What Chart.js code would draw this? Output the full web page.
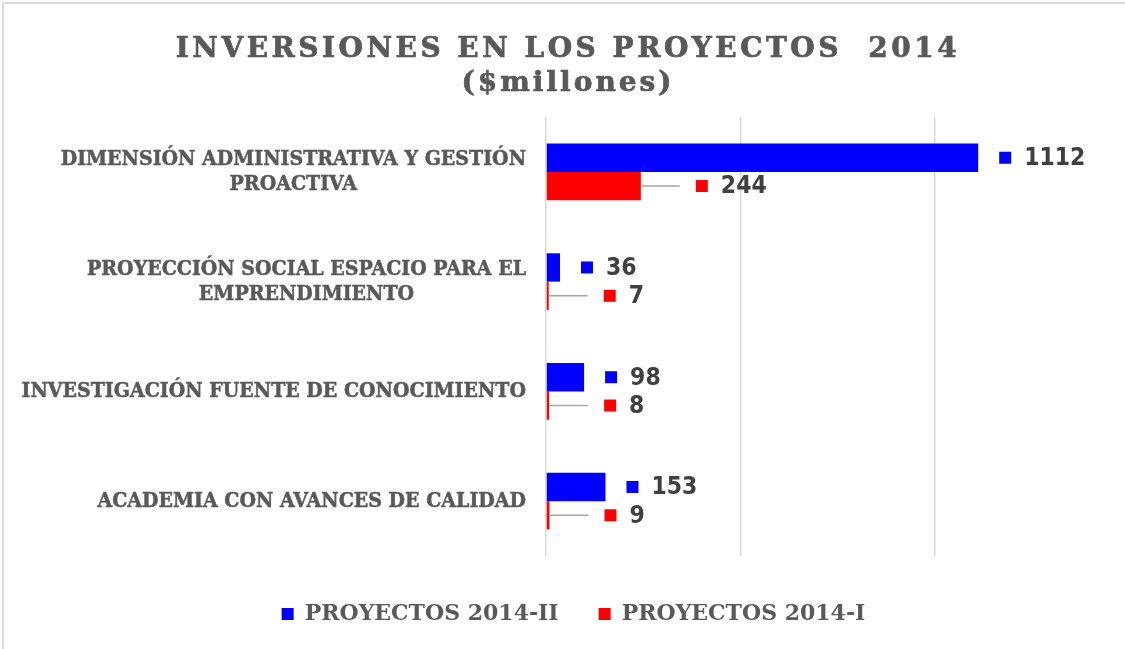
<!DOCTYPE html>
<html>
<head>
<meta charset="utf-8">
<script src="https://cdn.jsdelivr.net/npm/chart.js@4.4.1/dist/chart.umd.min.js"></script>
<style>
  html, body { margin:0; padding:0; background:#fff; overflow:hidden; }
  #wrap { position:absolute; left:0; top:0; width:1170px; height:649px; }
  #frame { position:absolute; left:2px; top:2px; width:1200px; height:700px; border-top:2px solid #d9d9d9; border-left:2px solid #d9d9d9; pointer-events:none; }
</style>
</head>
<body>
<div id="wrap"><canvas id="chart" width="1170" height="649"></canvas></div>
<div id="frame"></div>
<script>
const categories = [
  ['DIMENSIÓN ADMINISTRATIVA Y GESTIÓN', 'PROACTIVA'],
  ['PROYECCIÓN SOCIAL ESPACIO PARA EL', 'EMPRENDIMIENTO'],
  ['INVESTIGACIÓN FUENTE DE CONOCIMIENTO'],
  ['ACADEMIA CON AVANCES DE CALIDAD']
];
const proyectos2014II = [1112, 36, 98, 153];
const proyectos2014I = [244, 7, 8, 9];
const titleLines = ['INVERSIONES EN LOS PROYECTOS  2014', '($millones)'];

const textGrey = '#595959';
const labelGrey = '#404040';

// text with optional vertical stretch and a thin stroke to make it heavier
function stretchText(ctx, text, x, y, sy, stroke){
  ctx.save();
  ctx.translate(x, y);
  ctx.scale(1, sy);
  ctx.fillText(text, 0, 0);
  if (stroke) {
    ctx.strokeStyle = ctx.fillStyle;
    ctx.lineWidth = stroke;
    ctx.strokeText(text, 0, 0);
  }
  ctx.restore();
}

const titlePlugin = {
  id: 'titleDraw',
  afterDraw(chart){
    const ctx = chart.ctx;
    ctx.save();
    ctx.fillStyle = textGrey;
    ctx.font = 'bold 28px "DejaVu Serif"';
    ctx.textAlign = 'center';
    ctx.textBaseline = 'alphabetic';
    ctx.letterSpacing = '3.5px';
    stretchText(ctx, titleLines[0], 568, 57, 1, 0.7);
    ctx.letterSpacing = '3px';
    stretchText(ctx, titleLines[1], 568, 91, 1, 0.7);
    ctx.restore();
  }
};

const catLabelPlugin = {
  id: 'catLabels',
  afterDraw(chart){
    const ctx = chart.ctx;
    const yScale = chart.scales.y;
    const right = chart.chartArea.left - 20;
    ctx.save();
    ctx.fillStyle = textGrey;
    ctx.font = 'bold 19px "DejaVu Serif"';
    ctx.textAlign = 'center';
    ctx.textBaseline = 'middle';
    const lh = 25;
    categories.forEach((lines, i) => {
      const yc = yScale.getPixelForTick(i);
      const w = Math.max(...lines.map(l => ctx.measureText(l).width));
      const cx = right - w / 2;
      lines.forEach((l, j) => {
        stretchText(ctx, l, cx, yc + (j - (lines.length - 1) / 2) * lh, 1.1, 0.5);
      });
    });
    ctx.restore();
  }
};

const valueLabelPlugin = {
  id: 'valueLabels',
  afterDatasetsDraw(chart){
    const ctx = chart.ctx;
    ctx.save();
    ctx.font = 'bold 22px "DejaVu Sans"';
    ctx.textBaseline = 'middle';
    ctx.textAlign = 'left';
    chart.data.datasets.forEach((ds, di) => {
      const meta = chart.getDatasetMeta(di);
      meta.data.forEach((bar, i) => {
        const x = bar.x, y = bar.y;
        let sq;
        if (di === 0) {
          sq = x + 21;
        } else {
          sq = x + 55;
          ctx.strokeStyle = '#a6a6a6';
          ctx.lineWidth = 1.5;
          ctx.beginPath();
          ctx.moveTo(x, y);
          ctx.lineTo(sq - 16, y);
          ctx.stroke();
        }
        ctx.fillStyle = ds.backgroundColor;
        ctx.fillRect(sq, y - 6, 12, 12);
        ctx.fillStyle = labelGrey;
        stretchText(ctx, String(ds.data[i]), sq + 25, y + 1, 1.12, 0);
      });
    });
    ctx.restore();
  }
};

new Chart(document.getElementById('chart'), {
  type: 'bar',
  data: {
    labels: categories,
    datasets: [
      { label: 'PROYECTOS 2014-II', data: proyectos2014II, backgroundColor: '#0000ff', borderWidth: 0 },
      { label: 'PROYECTOS 2014-I', data: proyectos2014I, backgroundColor: '#ff0000', borderWidth: 0 }
    ]
  },
  options: {
    indexAxis: 'y',
    responsive: false,
    animation: false,
    layout: { padding: { left: 18, top: 117, right: 41, bottom: 14 } },
    datasets: { bar: { barPercentage: 1, categoryPercentage: 0.516 } },
    scales: {
      x: {
        min: 0, max: 1500,
        ticks: { display: false, stepSize: 500 },
        grid: { color: '#d9d9d9', lineWidth: 1.5, drawTicks: false },
        border: { display: false },
        afterFit(s){ s.height = 7; }
      },
      y: {
        ticks: { display: false },
        grid: { display: false },
        border: { display: false },
        afterFit(s){ s.width = 528; }
      }
    },
    plugins: {
      tooltip: { enabled: false },
      title: { display: false },
      legend: {
        position: 'bottom',
        labels: {
          boxWidth: 12, boxHeight: 12, padding: 40,
          color: textGrey,
          font: { family: 'DejaVu Serif', weight: 'bold', size: 22 }
        }
      }
    }
  },
  plugins: [titlePlugin, catLabelPlugin, valueLabelPlugin]
});
</script>
</body>
</html>
